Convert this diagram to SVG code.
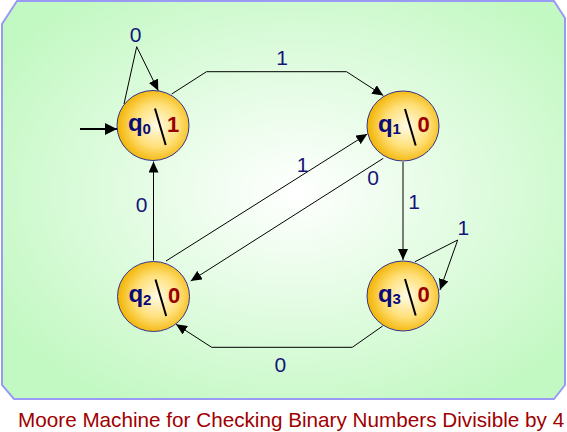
<svg xmlns="http://www.w3.org/2000/svg" width="567" height="432" viewBox="0 0 567 432">
<defs>
<radialGradient id="bg" cx="52%" cy="48%" r="62%">
<stop offset="0" stop-color="#ffffff"/>
<stop offset="1" stop-color="#c2f8c2"/>
</radialGradient>
<radialGradient id="nodeFill" cx="55%" cy="50%" r="55%">
<stop offset="0" stop-color="#fffbe6"/>
<stop offset="0.55" stop-color="#ffe07a"/>
<stop offset="1" stop-color="#f2b300"/>
</radialGradient>
<marker id="arr" markerUnits="userSpaceOnUse" markerWidth="11" markerHeight="10" refX="11" refY="5" orient="auto">
<path d="M0,0 L11,5 L0,10 z" fill="#000"/>
</marker>
<marker id="arrBig" markerUnits="userSpaceOnUse" markerWidth="12" markerHeight="12" refX="12" refY="6" orient="auto">
<path d="M0,0 L12,6 L0,12 z" fill="#000"/>
</marker>
<style>
.node ellipse{fill:url(#nodeFill);stroke:#34348a;stroke-width:1}
.q{font-family:"Liberation Sans",Arial,sans-serif;font-weight:bold;font-size:24px;fill:#0a0a78}
.sub{font-family:"Liberation Sans",Arial,sans-serif;font-weight:bold;font-size:15px;fill:#0a0a78}
.out{font-family:"Liberation Sans",Arial,sans-serif;font-weight:bold;font-size:22px;fill:#9a0000}
.slash{stroke:#000;stroke-width:2}
.edge{fill:none;stroke:#000;stroke-width:1;marker-end:url(#arr)}
.lbl{font-family:"Liberation Sans",Arial,sans-serif;font-size:21px;fill:#14147a;text-anchor:middle}
</style>
</defs>
<polygon points="17,1 554,1 565,18 565,385 554,399 14,399 2,385 2,24" fill="url(#bg)" stroke="#9a9af5" stroke-width="2"/>

<g id="connectors">
<line x1="80" y1="129" x2="117" y2="129" stroke="#000" stroke-width="2" marker-end="url(#arrBig)"/>
<polyline class="edge" points="124,104 136.7,46.7 158.3,90.7"/>
<text class="lbl" x="135.5" y="41.7">0</text>
<polyline class="edge" points="171.7,94 206.5,71.7 346.5,71.7 383.3,95.5"/>
<text class="lbl" x="282" y="65">1</text>
<line class="edge" x1="403" y1="162" x2="403" y2="260"/>
<text class="lbl" x="414" y="209.3">1</text>
<polyline class="edge" points="415,261.7 457.7,240 440,290"/>
<text class="lbl" x="463.3" y="235">1</text>
<line class="edge" x1="383.3" y1="158.3" x2="190.7" y2="281"/>
<text class="lbl" x="373" y="185">0</text>
<line class="edge" x1="166" y1="261" x2="367.3" y2="134"/>
<text class="lbl" x="302.5" y="171.7">1</text>
<line class="edge" x1="153.5" y1="260.5" x2="153.5" y2="161.5"/>
<text class="lbl" x="141.7" y="212.3">0</text>
<polyline class="edge" points="382.7,326 352.3,347.3 211.7,347.3 176,324.3"/>
<text class="lbl" x="280.3" y="371.7">0</text>
</g>

<g id="q0" class="node">
<ellipse cx="153" cy="125.5" rx="36" ry="35"/>
<text class="q" x="128" y="131">q</text><text class="sub" x="142.5" y="133.5">0</text>
<line class="slash" x1="155" y1="108.5" x2="165.7" y2="145"/>
<text class="out" x="167" y="131.5">1</text>
</g>
<g id="q1" class="node">
<ellipse cx="403" cy="126" rx="36" ry="35"/>
<text class="q" x="378" y="131.5">q</text><text class="sub" x="392.5" y="134">1</text>
<line class="slash" x1="405" y1="109" x2="415.7" y2="145.5"/>
<text class="out" x="417.5" y="132">0</text>
</g>
<g id="q2" class="node">
<ellipse cx="153.5" cy="296.5" rx="36" ry="35"/>
<text class="q" x="128.5" y="302">q</text><text class="sub" x="143" y="304.5">2</text>
<line class="slash" x1="155.5" y1="279.5" x2="166.2" y2="316"/>
<text class="out" x="168" y="302.5">0</text>
</g>
<g id="q3" class="node">
<ellipse cx="403" cy="296" rx="36" ry="35"/>
<text class="q" x="378" y="301.5">q</text><text class="sub" x="392.5" y="304">3</text>
<line class="slash" x1="405" y1="279" x2="415.7" y2="315.5"/>
<text class="out" x="417.5" y="302">0</text>
</g>

<text x="18" y="426.7" font-family="Liberation Sans, Arial, sans-serif" font-size="20.7" fill="#a00000">Moore Machine for Checking Binary Numbers Divisible by 4</text>
</svg>
